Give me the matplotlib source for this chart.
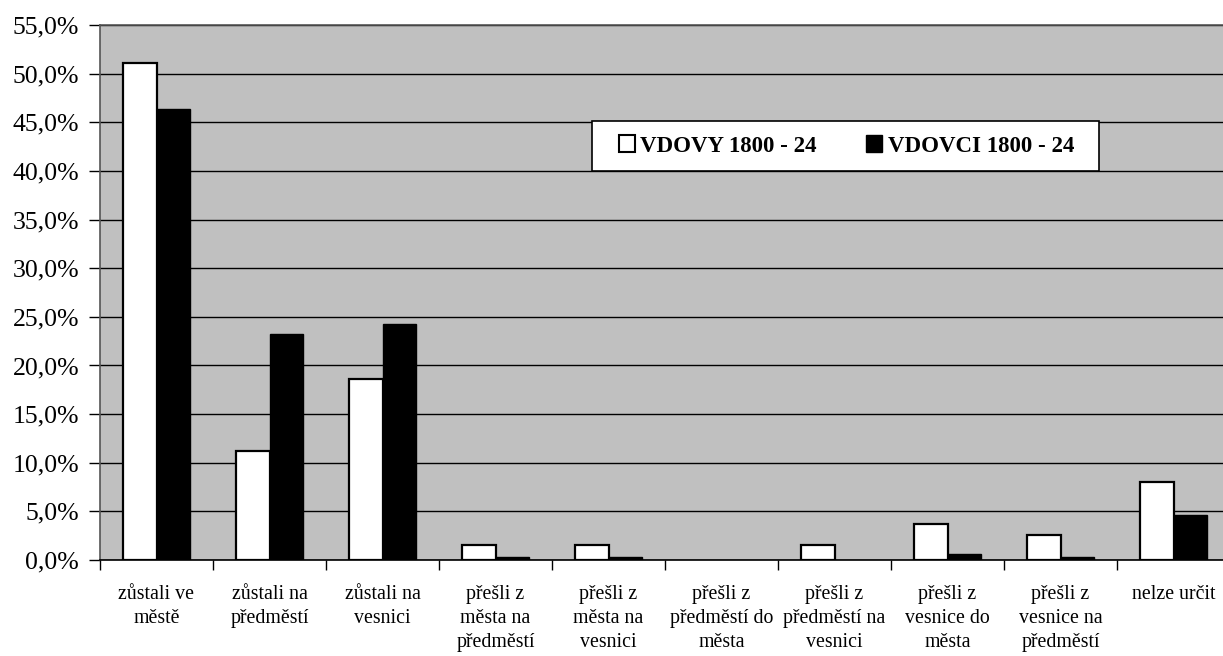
import matplotlib
matplotlib.use("Agg")
import matplotlib.pyplot as plt
import numpy as np
from matplotlib.ticker import FuncFormatter, MultipleLocator
from matplotlib.patches import Patch, Rectangle

categories = ["zůstali ve\nměstě", "zůstali na\npředměstí", "zůstali na\nvesnici",
              "přešli z\nměsta na\npředměstí", "přešli z\nměsta na\nvesnici",
              "přešli z\npředměstí do\nměsta", "přešli z\npředměstí na\nvesnici",
              "přešli z\nvesnice do\nměsta", "přešli z\nvesnice na\npředměstí",
              "nelze určit"]
vdovy = [51.1, 11.2, 18.6, 1.5, 1.5, 0.0, 1.5, 3.7, 2.6, 8.0]
vdovci = [46.4, 23.2, 24.3, 0.3, 0.3, 0.0, 0.0, 0.6, 0.3, 4.6]
series_names = ["VDOVY 1800 - 24", "VDOVCI 1800 - 24"]

plt.rcParams['font.family'] = ['Liberation Serif', 'DejaVu Serif']

W, H = 1223, 656
fig = plt.figure(figsize=(W / 100, H / 100), dpi=100)
fig.patch.set_facecolor("white")
left, right, top, bottom = 100, 1230, 25, 560
ax = fig.add_axes([left / W, 1 - bottom / H, (right - left) / W, (bottom - top) / H])
ax.set_facecolor("#C0C0C0")

n = len(categories)
x = np.arange(n)
bw = 0.295
ax.bar(x - bw / 2, vdovy, width=bw, color="white", edgecolor="black",
       linewidth=[1.6 if v > 0 else 0 for v in vdovy], zorder=3)
ax.bar(x + bw / 2, vdovci, width=bw, color="black", edgecolor="black",
       linewidth=[1.0 if v > 0 else 0 for v in vdovci], zorder=3)

ax.set_xlim(-0.5, n - 0.5)
ax.set_ylim(0, 55)
ax.yaxis.set_major_locator(MultipleLocator(5))
ax.yaxis.set_major_formatter(FuncFormatter(lambda v, p: f"{v:.1f}%".replace(".", ",")))
ax.yaxis.grid(True, color="black", linewidth=1.0, zorder=1)
ax.set_axisbelow(True)

ax.set_xticks(np.arange(n + 1) - 0.5)
ax.set_xticklabels([])
ax.set_xticks(x, minor=True)
ax.set_xticklabels(categories, minor=True, fontsize=14.3, linespacing=1.37, va="top")
ax.tick_params(axis="x", which="minor", length=0, pad=18)
ax.tick_params(axis="x", which="major", length=7, direction="out", width=1)
ax.tick_params(axis="y", length=8, direction="out", width=1, labelsize=18.5, pad=7)

for s in ["top", "left"]:
    ax.spines[s].set_color("#555555")
    ax.spines[s].set_linewidth(1.2)
ax.spines["bottom"].set_color("black")
ax.spines["bottom"].set_linewidth(1.2)
ax.spines["right"].set_visible(False)

# legend box
bx0, bx1, by0, by1 = 592, 1099, 121, 171
fig.patches.append(Rectangle((bx0 / W, 1 - by1 / H), (bx1 - bx0) / W, (by1 - by0) / H,
                             transform=fig.transFigure, facecolor="white",
                             edgecolor="black", linewidth=1.2, zorder=4))

handles = [Patch(facecolor="white", edgecolor="black", linewidth=1.5),
           Patch(facecolor="black", edgecolor="black")]
leg = fig.legend(handles, series_names, loc="center",
                 bbox_to_anchor=((bx0 + bx1) / 2 / W + 1 / W, 1 - (by0 + by1) / 2 / H),
                 ncol=2, frameon=False,
                 prop={"weight": "bold", "size": 16.5},
                 handlelength=0.7, handleheight=0.7, handletextpad=0.25,
                 columnspacing=2.15, borderpad=0.0, borderaxespad=0)
leg.set_zorder(5)

fig.savefig("out.png", dpi=100, facecolor="white")
